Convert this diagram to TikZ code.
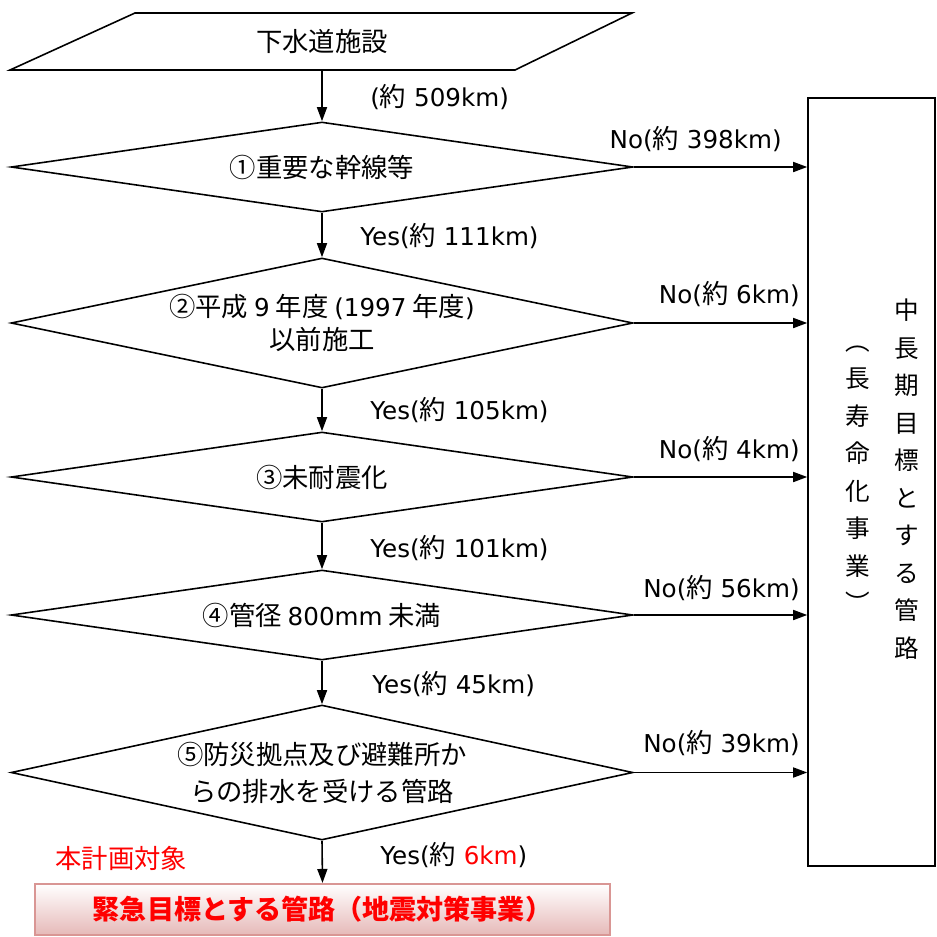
\documentclass[tikz,border=0pt]{standalone}
\usepackage{fontspec}
\setmainfont{Noto Sans CJK JP}
\newfontfamily\latfont{DejaVu Sans}
\newcommand\lat[1]{{\latfont\fontsize{14}{16}\selectfont #1}}
\usetikzlibrary{arrows.meta,shapes.geometric}
\definecolor{boxred}{HTML}{D99694}
\definecolor{boxpink}{HTML}{E6B9B8}
\begin{document}
\begin{tikzpicture}[x=0.02cm,y=-0.02cm,
  every node/.style={font=\fontsize{15}{17}\selectfont},
  line/.style={line width=0.9pt},
  arr/.style={line width=0.9pt,-{Triangle[length=0.28cm,width=0.2cm]}},
  dec/.style={draw,line width=0.9pt,diamond,inner sep=0pt,minimum width=12.44cm,align=center},
  lbl/.style={inner sep=0pt},
  vcol/.style={inner sep=0pt,align=center,font=\fontsize{14}{21.34}\selectfont}
]
\useasboundingbox (0,0) rectangle (937,937);
% source parallelogram
\draw[line] (135,13) -- (632,13) -- (515,70) -- (10,70) -- cycle;
\node[minimum height=1.14cm,inner sep=0pt] (src) at (322,41.5) {下水道施設};
% decisions
\node[dec,minimum height=1.8cm,aspect=6.9] (d1) at (322,167) {①重要な幹線等};
\node[dec,minimum height=2.6cm,aspect=4.78,font=\fontsize{15}{18.7}\selectfont] (d2) at (322,323) {②平成 \lat{9} 年度 \lat{(1997} 年度\lat{)}\\以前施工};
\node[dec,minimum height=1.8cm,aspect=6.9] (d3) at (322,477) {③未耐震化};
\node[dec,minimum height=1.8cm,aspect=6.9] (d4) at (322,615) {④管径 \lat{800mm} 未満};
\node[dec,minimum height=2.7cm,aspect=4.6,font=\fontsize{15}{21}\selectfont] (d5) at (322,772.5) {⑤防災拠点及び避難所か\\らの排水を受ける管路};
% long-term box
\node[draw,line width=0.9pt,minimum width=2.54cm,minimum height=15.36cm,inner sep=0pt] (lt) at (871.5,482) {};
\node[vcol] (lt1) at (907,479) {中\\長\\期\\目\\標\\と\\す\\る\\管\\路};
\node[vcol] (lt2) at (858,479) {︵\\長\\寿\\命\\化\\事\\業\\︶};
% goal box
\node[draw=boxred,line width=1.2pt,top color=white,bottom color=boxpink,minimum width=11.5cm,minimum height=1.02cm,inner sep=0pt,text=red,font=\bfseries\fontsize{15.4}{17}\selectfont] (goal) at (322.5,909.5) {緊急目標とする管路（地震対策事業）};
\node[lbl,text=red,anchor=west] (tgt) at (55,858) {本計画対象};
% yes arrows
\draw[arr] (src.south) -- (d1.north);
\draw[arr] (d1.south) -- (d2.north);
\draw[arr] (d2.south) -- (d3.north);
\draw[arr] (d3.south) -- (d4.north);
\draw[arr] (d4.south) -- (d5.north);
\draw[arr] (d5.south) -- (goal.north);
% no arrows
\draw[arr] (d1.east) -- (d1.east -| lt.west);
\draw[arr] (d2.east) -- (d2.east -| lt.west);
\draw[arr] (d3.east) -- (d3.east -| lt.west);
\draw[arr] (d4.east) -- (d4.east -| lt.west);
\draw[arr] (d5.east) -- (d5.east -| lt.west);
% labels
\node[lbl,anchor=west] (l0) at (370,97) {\lat{(}約\lat{ 509km)}};
\node[lbl,anchor=west] (y1) at (360,236) {\lat{Yes(}約\lat{ 111km)}};
\node[lbl,anchor=west] (y2) at (370,410) {\lat{Yes(}約\lat{ 105km)}};
\node[lbl,anchor=west] (y3) at (370,548) {\lat{Yes(}約\lat{ 101km)}};
\node[lbl,anchor=west] (y4) at (372,684) {\lat{Yes(}約\lat{ 45km)}};
\node[lbl,anchor=west] (y5) at (380,855) {\lat{Yes(}約\lat{ \textcolor{red}{6km})}};
\node[lbl,anchor=east] (n1) at (782,139) {\lat{No(}約\lat{ 398km)}};
\node[lbl,anchor=east] (n2) at (800,294) {\lat{No(}約\lat{ 6km)}};
\node[lbl,anchor=east] (n3) at (800,449) {\lat{No(}約\lat{ 4km)}};
\node[lbl,anchor=east] (n4) at (800,588) {\lat{No(}約\lat{ 56km)}};
\node[lbl,anchor=east] (n5) at (800,743) {\lat{No(}約\lat{ 39km)}};
\end{tikzpicture}
\end{document}
